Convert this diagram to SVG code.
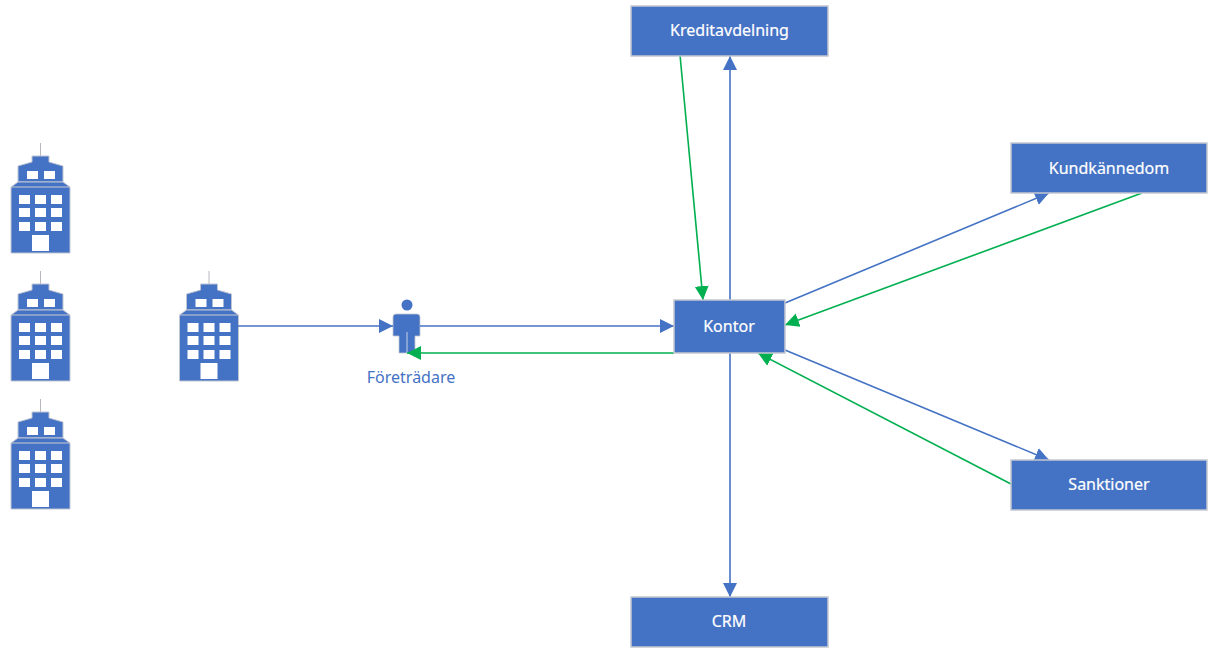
<svg xmlns="http://www.w3.org/2000/svg" width="1211" height="649" viewBox="0 0 1211 649">
<style>
text{font-family:"Noto Sans","Open Sans","Liberation Sans",sans-serif;font-size:16px;text-anchor:middle}
.box{fill:#4472c4;stroke:#c4c8d0;stroke-width:1.500}
.lbl{fill:#fff;stroke:#fff;stroke-width:0.200}
.b{fill:none;stroke:#4472c4;stroke-width:1.600}
.g{fill:none;stroke:#00b050;stroke-width:1.600}
.bd{fill:#4472c4;stroke:#bfc5d2;stroke-width:1}
.win{fill:#fff}
</style>
<defs>
<marker id="ab" markerUnits="userSpaceOnUse" markerWidth="15" markerHeight="16" refX="14" refY="8" orient="auto"><path d="M0,1L14,8L0,15Z" fill="#4472c4"/></marker>
<marker id="ag" markerUnits="userSpaceOnUse" markerWidth="15" markerHeight="16" refX="14" refY="8" orient="auto"><path d="M0,1L14,8L0,15Z" fill="#00b050"/></marker>
<g id="bld">
<path d="M29.500,0V13" stroke="#b5b8bd" stroke-width="1" fill="none"/>
<path class="bd" d="M21,13H38V19L52,23V39H7V23L21,19Z"/>
<path class="bd" d="M7,39H52L59,44V110H0V44Z"/>
<path d="M0,44H59" stroke="#c9ccd3" stroke-width="1" fill="none"/>
<rect class="win" x="16" y="28" width="11" height="8"/><rect class="win" x="33" y="28" width="11" height="8"/>
<rect class="win" x="8" y="52" width="11" height="9"/><rect class="win" x="24" y="52" width="11" height="9"/><rect class="win" x="40" y="52" width="11" height="9"/>
<rect class="win" x="8" y="65" width="11" height="9"/><rect class="win" x="24" y="65" width="11" height="9"/><rect class="win" x="40" y="65" width="11" height="9"/>
<rect class="win" x="8" y="79" width="11" height="9"/><rect class="win" x="24" y="79" width="11" height="9"/><rect class="win" x="40" y="79" width="11" height="9"/>
<rect class="win" x="21" y="92" width="17" height="16"/>
</g>
</defs>
<use id="building-1" href="#bld" x="11" y="143"/>
<use id="building-2" href="#bld" x="11" y="271"/>
<use id="building-3" href="#bld" x="11" y="399"/>
<use id="building-4" href="#bld" x="179.500" y="271"/>
<g id="foretradare">
<circle cx="407" cy="305" r="5.500" fill="#4472c4"/>
<path d="M396,314H417Q420,314 420,317V336H415V353H399V336H393V317Q393,314 396,314Z" fill="#4472c4" stroke="#bfc5d2" stroke-width="0.800"/>
<path d="M407,332V353" stroke="#c9d2e6" stroke-width="1"/>
<text x="411" y="383" style="fill:#4472c4">Företrädare</text>
</g>
<g id="connectors">
<path class="b" d="M238,326H393" marker-end="url(#ab)"/>
<path class="b" d="M420,326H674" marker-end="url(#ab)"/>
<path class="g" d="M674,353H407" marker-end="url(#ag)"/>
<path class="b" d="M730,300V56" marker-end="url(#ab)"/>
<path class="g" d="M680,55L703,300" marker-end="url(#ag)"/>
<path class="b" d="M785,303L1049,193" marker-end="url(#ab)"/>
<path class="g" d="M1142,193L785,325" marker-end="url(#ag)"/>
<path class="b" d="M785,350L1049,460" marker-end="url(#ab)"/>
<path class="g" d="M1011,484L758,353" marker-end="url(#ag)"/>
<path class="b" d="M730,353V597" marker-end="url(#ab)"/>
</g>
<g id="kontor"><rect class="box" x="674" y="300" width="111" height="53"/><text class="lbl" x="729" y="332">Kontor</text></g>
<g id="kreditavdelning"><rect class="box" x="631" y="6" width="197" height="50"/><text class="lbl" x="729.500" y="36">Kreditavdelning</text></g>
<g id="kundkannedom"><rect class="box" x="1011" y="143" width="196" height="50"/><text class="lbl" x="1109" y="174">Kundkännedom</text></g>
<g id="sanktioner"><rect class="box" x="1011" y="460" width="196" height="50"/><text class="lbl" x="1109" y="490">Sanktioner</text></g>
<g id="crm"><rect class="box" x="631" y="597" width="197" height="50"/><text class="lbl" x="729" y="627">CRM</text></g>
</svg>
